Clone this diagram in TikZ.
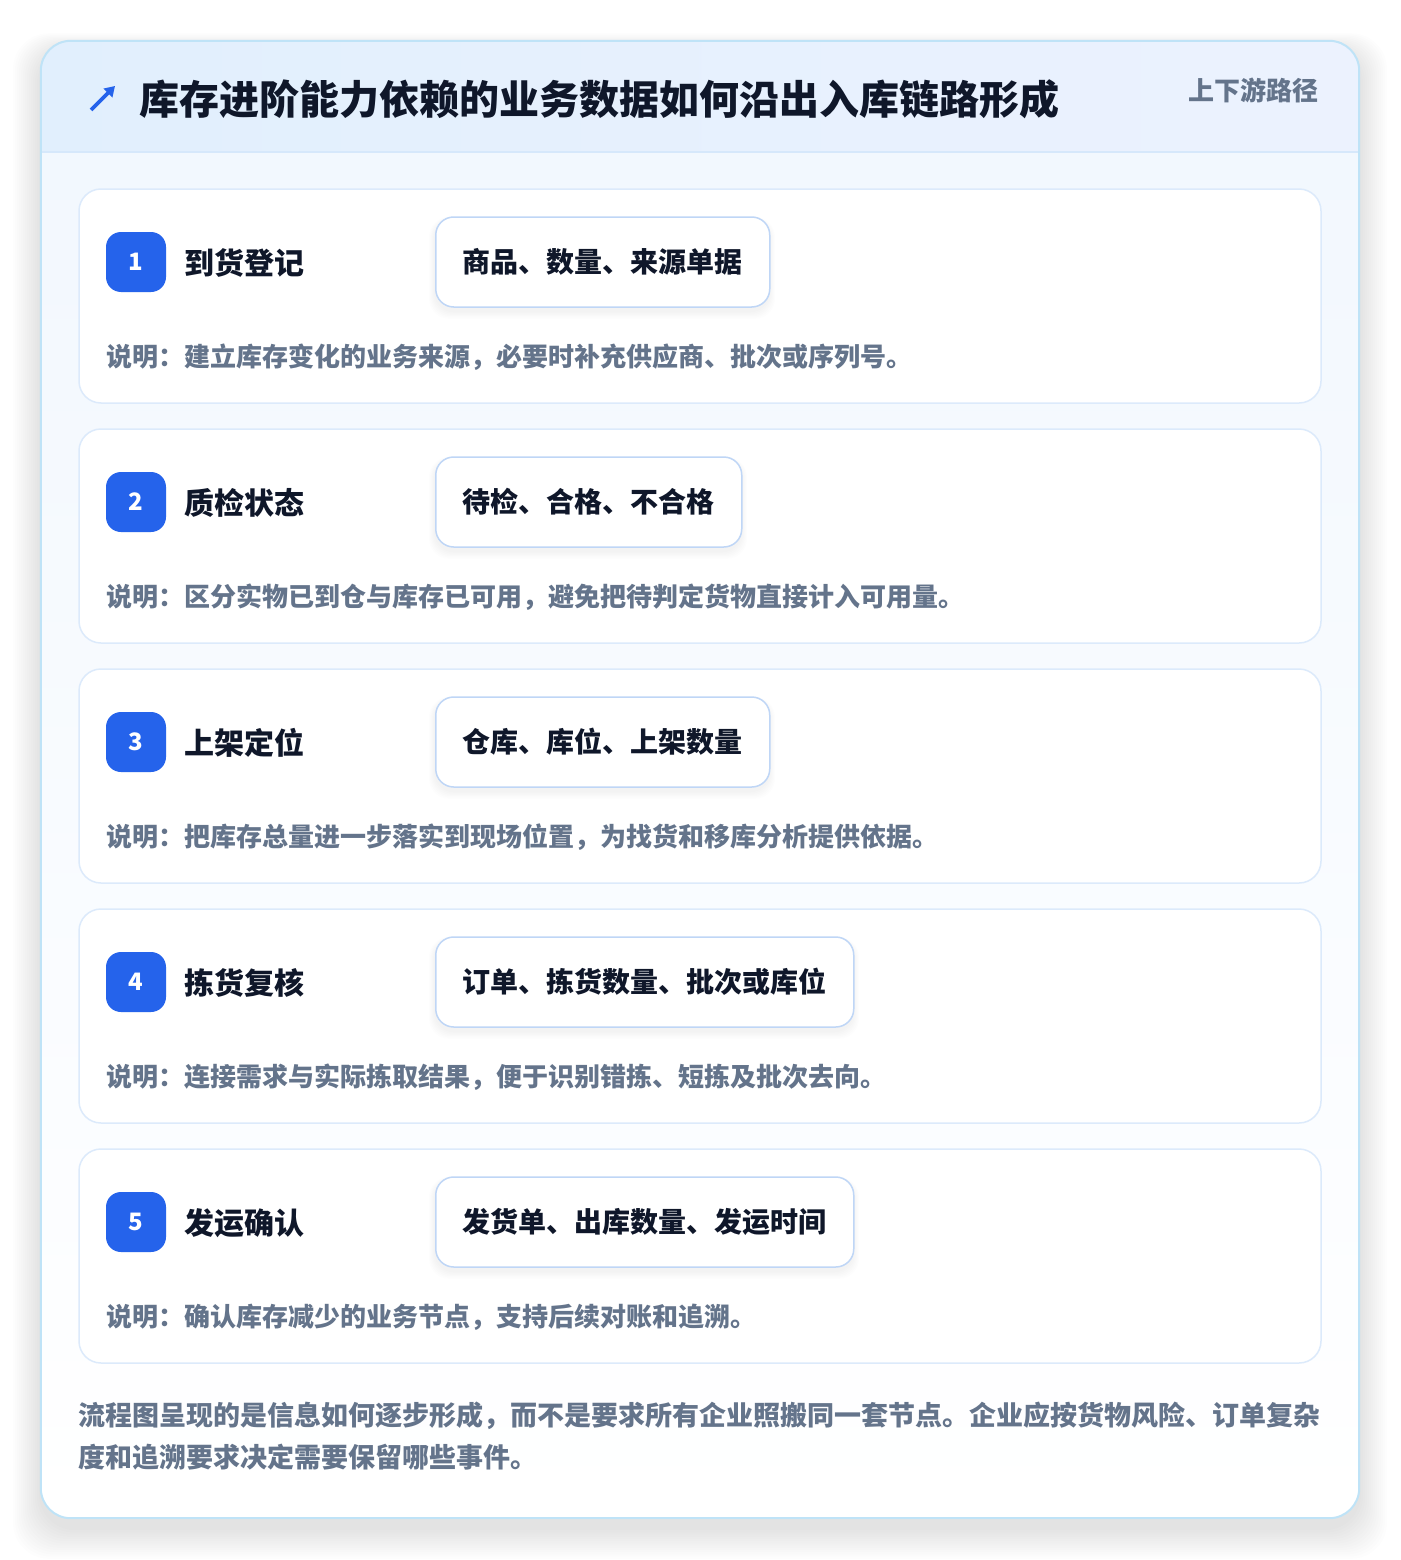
\documentclass[tikz,border=0pt]{standalone}
\usepackage{fontspec}
\setmainfont{Noto Sans CJK SC}
\usetikzlibrary{arrows.meta}
\definecolor{inkdark}{HTML}{0F172A}
\definecolor{inkgray}{HTML}{64748B}
\definecolor{brandblue}{HTML}{2563EB}
\definecolor{framebd}{HTML}{BFE3F7}
\definecolor{cardbd}{HTML}{DCEAFB}
\definecolor{pillbd}{HTML}{BFD6F6}
\definecolor{hdrL}{HTML}{E1EFFD}
\definecolor{hdrR}{HTML}{ECF2FE}
\definecolor{hdrline}{HTML}{D6E8FB}
\definecolor{bodytop}{HTML}{F1F7FE}
\tikzset{
  frame/.style={rectangle, rounded corners=30pt, minimum width=1318pt, minimum height=1477pt, inner sep=0pt, top color=bodytop, bottom color=white, draw=none},
  stepcard/.style={rectangle, rounded corners=22pt, minimum width=1242pt, minimum height=214pt, inner sep=0pt, fill=white, draw=cardbd, line width=1.5pt},
  badge/.style={rectangle, rounded corners=15pt, minimum width=60pt, minimum height=60pt, inner sep=0pt, fill=brandblue, text=white, font=\fontsize{24pt}{28pt}\selectfont\bfseries},
  steptitle/.style={anchor=west, inner sep=0pt, text=inkdark, font=\fontsize{30pt}{36pt}\selectfont\bfseries},
  pill/.style={rectangle, rounded corners=18pt, minimum height=90pt, inner sep=0pt, fill=white, draw=pillbd, line width=1.5pt, text=inkdark, font=\fontsize{28pt}{34pt}\selectfont\bfseries},
  desc/.style={anchor=west, inner sep=0pt, text=inkgray, font=\fontsize{26pt}{32pt}\selectfont\bfseries},
}
\begin{document}
\begin{tikzpicture}[x=1pt,y=-1pt]
\useasboundingbox (0,0) rectangle (1400,1560);
\fill[white] (0,0) rectangle (1400,1560);
% outer shadow
\foreach \i in {1,...,14}{
  \fill[black, opacity=0.0065, rounded corners=36pt] (41-2*\i, 50-1.2*\i) rectangle (1359+2*\i, 1528+2.2*\i);
}
\node[frame] (frame) at (700,779.5) {};
\begin{scope}
  \clip[rounded corners=30pt] (frame.north west) rectangle (frame.south east);
  \fill[left color=hdrL, right color=hdrR] (41,41) rectangle (1359,152);
  \draw[hdrline, line width=1.5pt] (41,152) -- (1359,152);
\end{scope}
\draw[framebd, line width=2pt, rounded corners=30pt] (frame.north west) rectangle (frame.south east);
% header
\coordinate (iconA) at (91,110);
\coordinate (iconB) at (115,86);
\draw[brandblue, line width=3.6pt, -{Triangle[length=10pt,width=12pt]}] (iconA) -- (iconB);
\node[anchor=west, inner sep=0pt, text=inkdark, font=\fontsize{40pt}{48pt}\selectfont\bfseries] (title) at (139,99) {库存进阶能力依赖的业务数据如何沿出入库链路形成};
\node[anchor=east, inner sep=0pt, text=inkgray, font=\fontsize{26pt}{32pt}\selectfont\bfseries] (tag) at (1319,90) {上下游路径};
% steps
\foreach \n/\t/\p/\w/\d in {
  1/到货登记/商品、数量、来源单据/334/说明：建立库存变化的业务来源，必要时补充供应商、批次或序列号。,
  2/质检状态/待检、合格、不合格/306/说明：区分实物已到仓与库存已可用，避免把待判定货物直接计入可用量。,
  3/上架定位/仓库、库位、上架数量/334/说明：把库存总量进一步落实到现场位置，为找货和移库分析提供依据。,
  4/拣货复核/订单、拣货数量、批次或库位/418/说明：连接需求与实际拣取结果，便于识别错拣、短拣及批次去向。,
  5/发运确认/发货单、出库数量、发运时间/418/说明：确认库存减少的业务节点，支持后续对账和追溯。}{
  \pgfmathsetmacro{\yo}{240*(\n-1)}
  \node[stepcard] (card\n) at (700,296+\yo) {};
  \node[badge] (badge\n) at (136,262+\yo) {\n};
  \node[steptitle] (title\n) at (184,263+\yo) {\t};
  \foreach \k in {1,...,6}{
    \fill[black, opacity=0.008, rounded corners=20pt] (435-\k, 220+\yo-0.5*\k) rectangle (435+\w+\k, 311+\yo+1.3*\k);
  }
  \node[pill, minimum width=\w pt, anchor=west] (pill\n) at (435,262+\yo) {\p};
  \node[desc] (desc\n) at (106,357+\yo) {\d};
}
% footer
\node[anchor=west, inner sep=0pt, align=left, text=inkgray, font=\fontsize{27pt}{42pt}\selectfont\bfseries] (note) at (78,1436) {流程图呈现的是信息如何逐步形成，而不是要求所有企业照搬同一套节点。企业应按货物风险、订单复杂\\度和追溯要求决定需要保留哪些事件。};
\end{tikzpicture}
\end{document}
